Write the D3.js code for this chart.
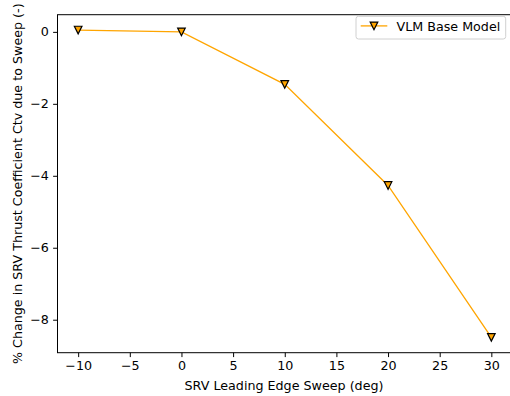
<!DOCTYPE html>
<html>
<head>
<meta charset="utf-8">
<script src="https://cdn.jsdelivr.net/npm/d3@7"></script>
<style>
  html, body { margin: 0; padding: 0; background: #fff; }
  svg { display: block; font-family: "DejaVu Sans", sans-serif; }
</style>
</head>
<body>
<svg id="chart" width="510" height="396"></svg>
<script>
// Leading-edge sweep angles (deg) and the resulting % change in thrust coefficient
const sweepDeg = [-10, 0, 10, 20, 30];
const ctvChange = [0.05, 0.0, -1.46, -4.27, -8.49];
const seriesName = "VLM Base Model";
const xTicks = [-10, -5, 0, 5, 10, 15, 20, 25, 30];
const yTicks = [0, -2, -4, -6, -8];

const svg = d3.select("#chart");
const margin = { left: 57.5, top: 14.7, right: -2, bottom: 43.3 };
const W = 510, H = 396;
const x0 = margin.left, x1 = W - margin.right;
const y0 = margin.top, y1 = H - margin.bottom;

// 5% padding on each side of the data range
function padded(vals) {
  const [a, b] = d3.extent(vals);
  const p = (b - a) * 0.05;
  return [a - p, b + p];
}

const x = d3.scaleLinear().domain(padded(sweepDeg)).range([x0, x1]);
const y = d3.scaleLinear().domain(padded(ctvChange)).range([y1, y0]);

const fmt = d => (d < 0 ? "\u2212" + Math.abs(d) : String(d));
const fontSize = 12.7;
const tickLen = 4.4;

// Axes
const xAxis = svg.append("g")
  .attr("transform", `translate(0,${y1})`)
  .call(d3.axisBottom(x).tickValues(xTicks).tickFormat(fmt).tickSizeOuter(0).tickSize(tickLen).tickPadding(4.2));
const yAxis = svg.append("g")
  .attr("transform", `translate(${x0},0)`)
  .call(d3.axisLeft(y).tickValues(yTicks).tickFormat(fmt).tickSizeOuter(0).tickSize(tickLen).tickPadding(4.2));

[xAxis, yAxis].forEach(g => {
  g.select(".domain").remove();
  g.selectAll("line").attr("stroke", "#000").attr("stroke-width", 1);
  g.selectAll("text").attr("font-size", fontSize).attr("fill", "#000")
    .attr("font-family", "DejaVu Sans, sans-serif");
});

// Plot frame
svg.append("rect")
  .attr("x", x0).attr("y", y0)
  .attr("width", x1 - x0).attr("height", y1 - y0)
  .attr("fill", "none").attr("stroke", "#000").attr("stroke-width", 1);

// Data line
const pts = sweepDeg.map((d, i) => [d, ctvChange[i]]);
svg.append("path")
  .datum(pts)
  .attr("d", d3.line().x(d => x(d[0])).y(d => y(d[1])))
  .attr("fill", "none")
  .attr("stroke", "#ffa500")
  .attr("stroke-width", 1.3);

// Downward triangle marker, centred on its bounding box
const half = 3.8;
const triDown = `M0,${half}L${-half},${-half}L${half},${-half}Z`;
svg.append("g").selectAll("path")
  .data(pts)
  .join("path")
  .attr("d", triDown)
  .attr("transform", d => `translate(${x(d[0])},${y(d[1])})`)
  .attr("fill", "#ffa500")
  .attr("stroke", "#000")
  .attr("stroke-width", 1.2)
  .attr("stroke-linejoin", "miter");

// Axis labels
svg.append("text")
  .attr("x", 284)
  .attr("y", 389.5)
  .attr("text-anchor", "middle")
  .attr("font-size", fontSize)
  .text("SRV Leading Edge Sweep (deg)");

svg.append("text")
  .attr("transform", `translate(21.5,${(y0 + y1) / 2}) rotate(-90)`)
  .attr("text-anchor", "middle")
  .attr("font-size", fontSize)
  .text("% Change in SRV Thrust Coefficient Ctv due to Sweep (-)");

// Legend
const lg = svg.append("g");
lg.append("rect")
  .attr("x", 356).attr("y", 16.3)
  .attr("width", 149.7).attr("height", 22.7)
  .attr("rx", 2.5)
  .attr("fill", "#fff").attr("fill-opacity", 0.8)
  .attr("stroke", "#d0d0d0").attr("stroke-width", 1);
lg.append("line")
  .attr("x1", 360.7).attr("x2", 387.3)
  .attr("y1", 25.9).attr("y2", 25.9)
  .attr("stroke", "#ffa500").attr("stroke-width", 1.3);
lg.append("path")
  .attr("d", triDown)
  .attr("transform", "translate(374,25.9)")
  .attr("fill", "#ffa500").attr("stroke", "#000").attr("stroke-width", 1.2);
lg.append("text")
  .attr("x", 396.5).attr("y", 30.5)
  .attr("font-size", fontSize)
  .text(seriesName);
</script>
</body>
</html>
